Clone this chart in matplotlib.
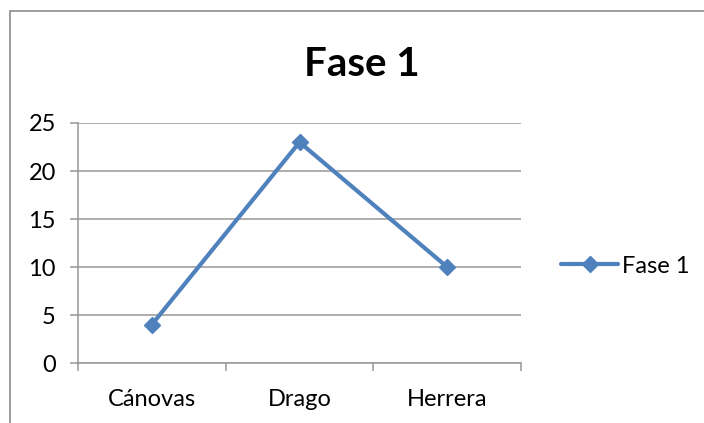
import matplotlib
matplotlib.use("Agg")
import matplotlib.pyplot as plt
from matplotlib.patches import Rectangle
from matplotlib.lines import Line2D

categories = ["Cánovas", "Drago", "Herrera"]
values = [4, 23, 10]
series_name = "Fase 1"
yticks = [0, 5, 10, 15, 20, 25]

plt.rcParams['font.family'] = ['Lato', 'DejaVu Sans']

W, H = 704, 423
fig = plt.figure(figsize=(W / 100, H / 100), dpi=100)
fig.patch.set_facecolor("white")

# chart frame (only top/left edges fall inside the image)
fig.add_artist(Rectangle((9.5 / W, -0.1), 1.2, 1 - 11.5 / H + 0.1,
                         transform=fig.transFigure, fill=False,
                         edgecolor="#8c8c8c", linewidth=1.2))

ax = fig.add_axes([78 / W, 1 - 363 / H, (521 - 78) / W, (363 - 123) / H])
blue = "#4f81bd"
grid = "#979797"

x = list(range(len(categories)))
ax.plot(x, values, color=blue, linewidth=3.0, marker="D", markersize=8.5,
        markerfacecolor=blue, markeredgecolor=blue, solid_capstyle="round",
        zorder=3)

ax.set_xlim(-0.5, len(categories) - 0.5)
ax.set_ylim(0, 25)
ax.set_yticks(yticks)
ax.set_yticklabels([str(v) for v in yticks], fontsize=17)
for v in yticks:
    ax.axhline(v, color=grid, linewidth=1.1, zorder=1)

ax.set_xticks(x)
ax.set_xticklabels(categories, fontsize=17)
ax.tick_params(axis="x", length=0, pad=19)
ax.set_xticks([i - 0.5 for i in range(len(categories) + 1)], minor=True)
ax.tick_params(axis="x", which="minor", length=6, width=1.1, color=grid,
               direction="out")
ax.tick_params(axis="y", length=6, width=1.1, color=grid, direction="out",
               pad=10)

for s in ["top", "right"]:
    ax.spines[s].set_visible(False)
ax.spines["left"].set_color(grid)
ax.spines["left"].set_linewidth(1.1)
ax.spines["bottom"].set_color(grid)
ax.spines["bottom"].set_linewidth(1.1)

fig.text(362 / W, 1 - 64 / H, "Fase 1", ha="center", va="center",
         fontsize=29, fontweight="bold")

# legend entry
handle = Line2D([0], [0], color=blue, linewidth=3.0, marker="D",
                markersize=8.5, solid_capstyle="round")
fig.legend([handle], [series_name], loc="center left",
           bbox_to_anchor=(552 / W, 1 - 266 / H), frameon=False,
           fontsize=17, handlelength=2.4, handletextpad=0.15,
           borderaxespad=0)

fig.savefig("out.png", dpi=100)
